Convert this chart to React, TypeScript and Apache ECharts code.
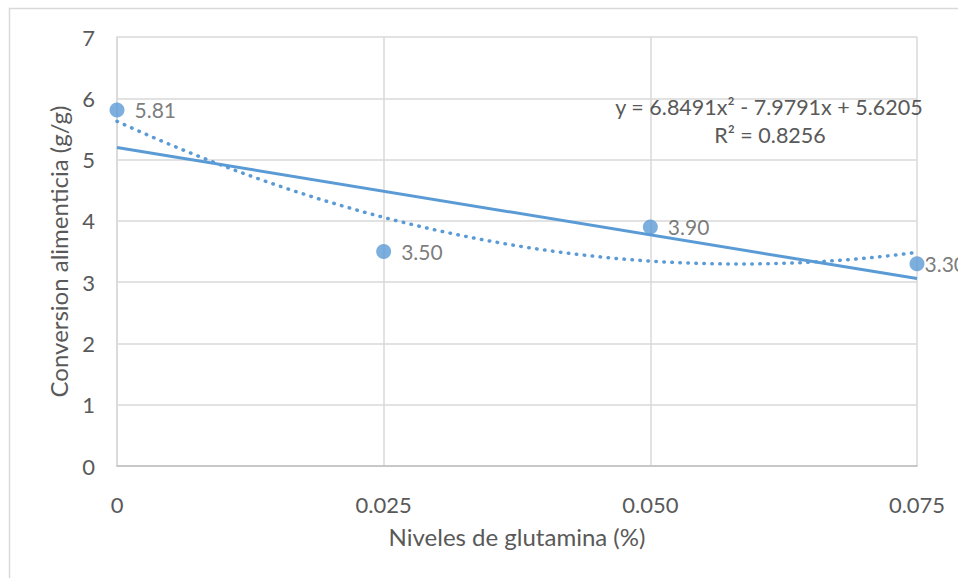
import React, { useEffect, useRef } from "react";
import * as echarts from "echarts";

const xValues = [0, 0.025, 0.05, 0.075];
const yValues = [5.81, 3.5, 3.9, 3.3];
const pointLabels = ["5.81", "3.50", "3.90", "3.30"];
const xTickLabels = ["0", "0.025", "0.050", "0.075"];
const yTicks = [0, 1, 2, 3, 4, 5, 6, 7];
const equationLines = ["y = 6.8491x² - 7.9791x + 5.6205", "R² = 0.8256"];
const xTitle = "Niveles de glutamina (%)";
const yTitle = "Conversion alimenticia (g/g)";

// least-squares fits computed from the data
function linearFit(xs: number[], ys: number[]) {
  const n = xs.length;
  const mx = xs.reduce((a, b) => a + b, 0) / n;
  const my = ys.reduce((a, b) => a + b, 0) / n;
  let sxy = 0, sxx = 0;
  for (let i = 0; i < n; i++) {
    sxy += (xs[i] - mx) * (ys[i] - my);
    sxx += (xs[i] - mx) ** 2;
  }
  const b = sxy / sxx;
  return { a: my - b * mx, b };
}
function quadFit(xs: number[], ys: number[]) {
  const s = [0, 0, 0, 0, 0];
  const t = [0, 0, 0];
  for (let i = 0; i < xs.length; i++) {
    for (let k = 0; k < 5; k++) s[k] += xs[i] ** k;
    for (let k = 0; k < 3; k++) t[k] += ys[i] * xs[i] ** k;
  }
  const M = [
    [s[0], s[1], s[2], t[0]],
    [s[1], s[2], s[3], t[1]],
    [s[2], s[3], s[4], t[2]],
  ];
  for (let c = 0; c < 3; c++) {
    for (let r = c + 1; r < 3; r++) {
      const f = M[r][c] / M[c][c];
      for (let k = c; k < 4; k++) M[r][k] -= f * M[c][k];
    }
  }
  const res = [0, 0, 0];
  for (let r = 2; r >= 0; r--) {
    let v = M[r][3];
    for (let k = r + 1; k < 3; k++) v -= M[r][k] * res[k];
    res[r] = v / M[r][r];
  }
  return res;
}

export default function App() {
  const ref = useRef<HTMLDivElement>(null);
  useEffect(() => {
    document.body.style.margin = "0";
    const chart = echarts.init(ref.current!, undefined, { renderer: "svg" });
    const lin = linearFit(xValues, yValues);
    const q = quadFit(xValues, yValues);
    const xMin = xValues[0];
    const xMax = xValues[xValues.length - 1];
    const linData = [xMin, xMax].map((x) => [x, lin.a + lin.b * x]);
    const steps = 80;
    const quadData: number[][] = [];
    for (let i = 0; i <= steps; i++) {
      const x = xMin + ((xMax - xMin) * i) / steps;
      quadData.push([x, q[0] + q[1] * x + q[2] * x * x]);
    }
    const font = "Lato, 'Open Sans', sans-serif";
    const textColor = "#595959";
    const blue = "#5B9BD5";
    chart.setOption({
      animation: false,
      textStyle: { fontFamily: font },
      grid: { left: 117, right: 41, top: 37, bottom: 112, containLabel: false },
      xAxis: {
        type: "value",
        min: 0,
        max: 0.075,
        interval: 0.025,
        name: xTitle,
        nameLocation: "middle",
        nameGap: 58,
        nameTextStyle: { color: textColor, fontSize: 24, fontFamily: font },
        axisLine: { show: true, lineStyle: { color: "#bfbfbf", width: 1.5 } },
        axisTick: { show: false },
        axisLabel: {
          color: textColor,
          fontSize: 22,
          margin: 27,
          fontFamily: font,
          formatter: (v: number) => xTickLabels[Math.round(v / 0.025)] ?? "",
        },
        splitLine: { show: true, lineStyle: { color: "#d9d9d9", width: 1.5 } },
      },
      yAxis: {
        type: "value",
        min: yTicks[0],
        max: yTicks[yTicks.length - 1],
        interval: 1,
        name: yTitle,
        nameLocation: "middle",
        nameGap: 47,
        nameTextStyle: { color: textColor, fontSize: 24, fontFamily: font },
        axisLine: { show: true, lineStyle: { color: "#d9d9d9", width: 1.5 } },
        axisTick: { show: false },
        axisLabel: { color: textColor, fontSize: 22, margin: 22, fontFamily: font },
        splitLine: { show: true, lineStyle: { color: "#d9d9d9", width: 1.5 } },
      },
      series: [
        {
          type: "line",
          data: linData,
          symbol: "none",
          lineStyle: { color: blue, width: 3 },
          z: 2,
        },
        {
          type: "line",
          data: quadData,
          symbol: "none",
          lineStyle: { color: blue, width: 3.5, type: [0.5, 7.5], cap: "round" },
          z: 2,
        },
        {
          type: "scatter",
          data: xValues.map((x, i) => ({
            value: [x, yValues[i]],
            label: i === xValues.length - 1 ? { distance: 0 } : undefined,
          })),
          symbol: "circle",
          symbolSize: 15,
          itemStyle: { color: blue },
          label: {
            show: true,
            position: "right",
            distance: 10,
            color: textColor,
            fontSize: 21,
            fontFamily: font,
            formatter: (p: any) => pointLabels[p.dataIndex],
          },
          z: 3,
        },
      ],
      graphic: [
        {
          type: "rect",
          shape: { x: 9.5, y: 8.5, width: 2000, height: 2000 },
          style: { fill: "none", stroke: "#d9d9d9", lineWidth: 1.5 },
          silent: true,
          z: -1,
        },
        {
          type: "text",
          x: 769,
          y: 107,
          style: {
            text: equationLines[0],
            fill: textColor,
            font: `21.5px ${font}`,
            align: "center",
            verticalAlign: "middle",
          },
          z: 10,
        },
        {
          type: "text",
          x: 770,
          y: 135,
          style: {
            text: equationLines[1],
            fill: textColor,
            font: `21.5px ${font}`,
            align: "center",
            verticalAlign: "middle",
          },
          z: 10,
        },
      ],
    });
    return () => chart.dispose();
  }, []);
  return <div ref={ref} style={{ width: 958, height: 578 }} />;
}
